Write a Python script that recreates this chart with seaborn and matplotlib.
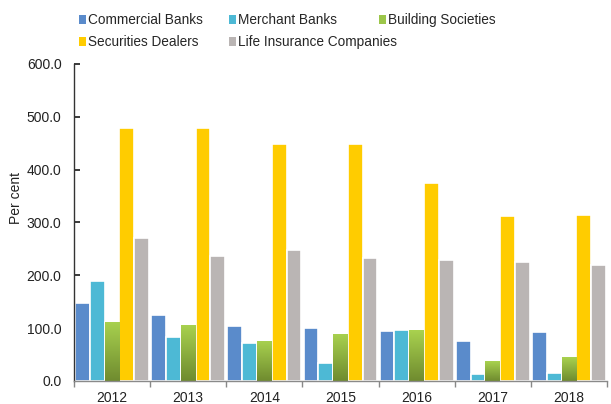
import numpy as np
import pandas as pd
import matplotlib
matplotlib.use("Agg")
import matplotlib.pyplot as plt
import seaborn as sns

years = ["2012", "2013", "2014", "2015", "2016", "2017", "2018"]
sectors = ["Commercial Banks", "Merchant Banks", "Building Societies",
           "Securities Dealers", "Life Insurance Companies"]
commercial_banks = [148, 124, 104, 100, 95, 76, 92]
merchant_banks = [189, 83, 72, 34, 97, 14, 16]
building_societies = [112, 106, 76, 89, 96, 37, 45]
securities_dealers = [479, 479, 448, 448, 374, 312, 314]
life_insurance = [271, 237, 248, 233, 229, 226, 220]
y_ticks = [0, 100, 200, 300, 400, 500, 600]

colors = ["#5A8BCB", "#4DB9D5", "#9CC64A", "#FFCC00", "#BAB5B4"]

series = [commercial_banks, merchant_banks, building_societies,
          securities_dealers, life_insurance]
df = pd.DataFrame({
    "year": np.tile(years, len(sectors)),
    "sector": np.repeat(sectors, len(years)),
    "value": np.concatenate(series),
})

sns.set_theme(style="white")
plt.rcParams["font.family"] = ["Liberation Sans", "DejaVu Sans"]

fig = plt.figure(figsize=(6.11, 4.04), dpi=100)
ax = fig.add_axes([74 / 611, 23 / 404, 533 / 611, 317 / 404])

sns.barplot(data=df, x="year", y="value", hue="sector", hue_order=sectors,
            palette=colors, width=0.97, saturation=1, edgecolor="white",
            linewidth=1.2, ax=ax)

# vertical green gradient on the building-society bars
grad = np.linspace(0, 1, 256).reshape(-1, 1)
green_cmap = matplotlib.colors.LinearSegmentedColormap.from_list(
    "gs", ["#6F8B2F", "#A9D24F"])
for bar in ax.containers[2]:
    x0, y0 = bar.get_x(), bar.get_y()
    w, h = bar.get_width(), bar.get_height()
    bar.set_facecolor("none")
    im = ax.imshow(grad, cmap=green_cmap, origin="lower", aspect="auto",
                   extent=[x0, x0 + w, y0, y0 + h], zorder=bar.get_zorder(),
                   interpolation="bilinear")
    im.set_clip_path(bar)
ax.set_ylim(0, 600)
ax.set_xlim(-0.5, len(years) - 0.5)

ax.set_yticks(y_ticks)
ax.set_yticklabels([f"{v:.1f}" for v in y_ticks])
ax.set_xlabel("")
ax.set_ylabel("Per cent", fontsize=10, color="#222222")
ax.yaxis.set_label_coords(-51 / 533, (381 - 198) / 317)
ax.tick_params(axis="y", labelsize=10, colors="#222222", length=4,
               direction="in", left=True, pad=9)
ax.tick_params(axis="x", labelsize=10, colors="#222222", length=0, pad=7)
ax.set_xticks(np.arange(-0.5, len(years)), minor=True)
ax.tick_params(axis="x", which="minor", length=4, bottom=True,
               direction="out", color="#888888")

for side in ["top", "right"]:
    ax.spines[side].set_visible(False)
ax.spines["left"].set_color("#333333")
ax.spines["left"].set_linewidth(1)
ax.spines["bottom"].set_color("#8A8A8A")
ax.spines["bottom"].set_linewidth(1)

handles, labels = ax.get_legend_handles_labels()
ax.get_legend().remove()
columns = [[0, 3], [1, 4], [2]]
col_x = [79 / 611, 229 / 611, 379 / 611]
for idxs, x in zip(columns, col_x):
    lg = fig.legend([handles[i] for i in idxs], [labels[i] for i in idxs],
                    loc="upper left", bbox_to_anchor=(x, 1 - 13 / 404),
                    frameon=False, fontsize=9.8, handlelength=0.5,
                    handleheight=0.6, handletextpad=0.15, labelspacing=0.62,
                    borderpad=0, borderaxespad=0)
    for h in lg.legend_handles:
        h.set_edgecolor("none")

fig.savefig("out.png", dpi=100)
